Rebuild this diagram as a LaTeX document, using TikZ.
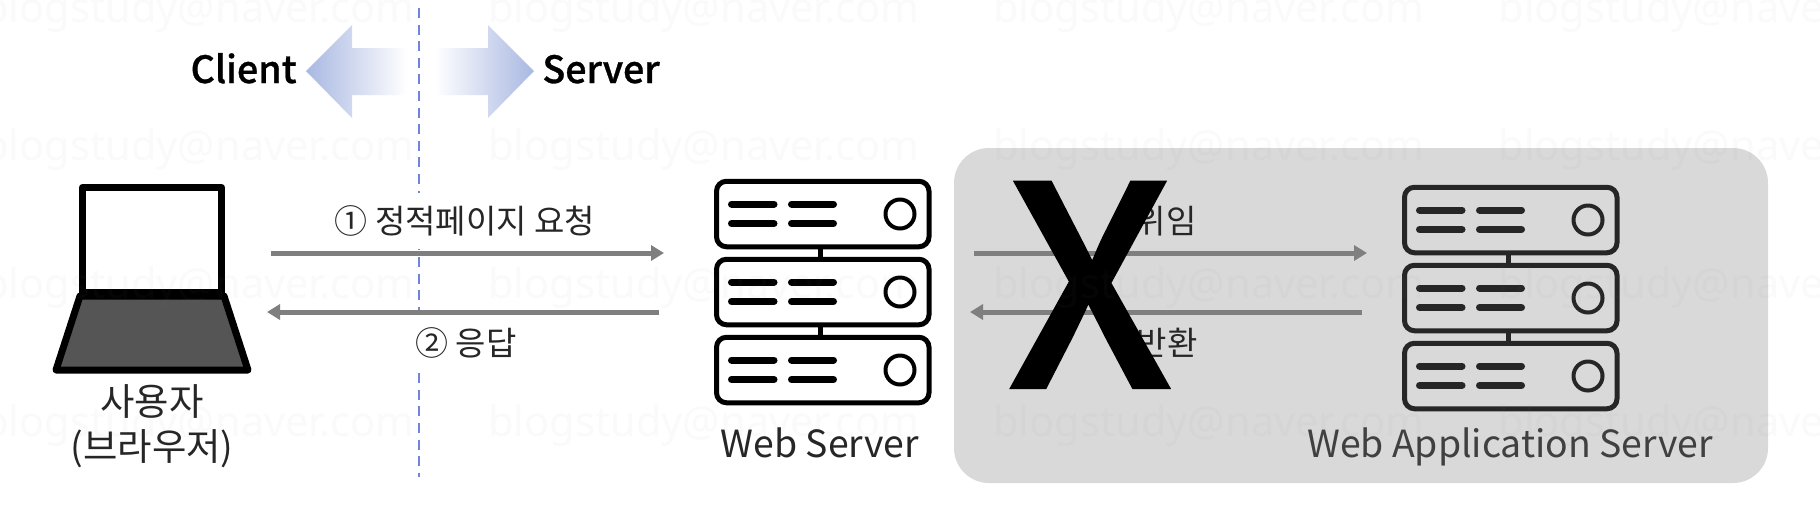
\documentclass[tikz,border=0pt]{standalone}
\usepackage{fontspec}
\usetikzlibrary{arrows.meta}
\setmainfont{Noto Sans CJK KR}
\newfontfamily\medfont[FakeBold=0.8]{Noto Sans CJK KR Medium}
\newfontfamily\wmfont{Noto Sans}
\definecolor{arrowgray}{HTML}{7F7F7F}
\definecolor{panelgray}{HTML}{D9D9D9}
\definecolor{dashblue}{HTML}{6F84DA}
\definecolor{headblue}{HTML}{A9B8E2}
\definecolor{txtdark}{HTML}{262626}
\definecolor{txtmid}{HTML}{404040}
\definecolor{basegray}{HTML}{555555}
\tikzset{
  x=0.5pt,y=-0.5pt,
  rack/.style={draw=#1,line width=2.5pt,rounded corners=5pt,inner sep=0pt,outer sep=0pt,minimum width=106.25pt,minimum height=32.75pt,fill=none},
  bar/.style={draw=#1,line width=3.5pt,line cap=round},
  led/.style={draw=#1,line width=2pt,circle,inner sep=0pt,outer sep=0pt,minimum size=14.5pt},
  link/.style={draw=#1,line width=2.5pt},
  flow/.style={draw=arrowgray,line width=2.5pt,-{Triangle[length=6.5pt,width=7.5pt]},shorten >=0pt},
  label/.style={font=\fontsize{16.5}{20}\selectfont,text=txtdark,inner sep=0pt},
  caption/.style={font=\fontsize{18.7}{22}\selectfont,inner sep=0pt,anchor=base},
  bigword/.style={font=\medfont\fontsize{18.8}{22}\selectfont,text=black,inner sep=0pt,anchor=base},
  wm/.style={font=\wmfont\fontsize{20.8}{24}\selectfont,text=gray,opacity=0.04,text opacity=0.04,inner sep=0pt,anchor=base west},
}
\newcommand{\rackstack}[4]{% prefix, dx, dy, colour
  \begin{scope}[shift={(#2,#3)}]
    \foreach \n/\yy in {1/214,2/292,3/370}{
      \node[rack=#4] (#1\n) at (822.75,\yy) {};
      \draw[bar=#4] (731.5,\yy-10) -- (774,\yy-10);
      \draw[bar=#4] (731.5,\yy+9.5) -- (774,\yy+9.5);
      \draw[bar=#4] (791.5,\yy-10) -- (833.5,\yy-10);
      \draw[bar=#4] (791.5,\yy+9.5) -- (833.5,\yy+9.5);
      \node[led=#4] (#1l\n) at (900,\yy) {};
    }
    \draw[link=#4] ([xshift=-1.125pt]#11.south) -- ([xshift=-1.125pt]#12.north);
    \draw[link=#4] ([xshift=-1.125pt]#12.south) -- ([xshift=-1.125pt]#13.north);
  \end{scope}
}
\begin{document}
\begin{tikzpicture}
\useasboundingbox (0,0) rectangle (1820,516);
\fill[white] (0,0) rectangle (1820,516);
% boundary
\coordinate (dashtop) at (419,8);
\coordinate (dashbot) at (419,477);
\draw[dashblue,line width=1.25pt,dash pattern=on 5pt off 3.3pt] (dashtop) -- (dashbot);
% direction arrows
\shade[left color=headblue,right color=white] (306,71) -- (352,25) -- (352,48) -- (407,48) -- (407,95) -- (352,95) -- (352,118) -- cycle;
\shade[left color=white,right color=headblue] (534,71) -- (488,25) -- (488,48) -- (435,48) -- (435,95) -- (488,95) -- (488,118) -- cycle;
\node[bigword,anchor=base east] (client) at (297,83) {Client};
\node[bigword,anchor=base west] (server) at (542,83) {Server};
% panel
\fill[panelgray,rounded corners=17.5pt] (954,148) rectangle (1768,483);
% laptop
\draw[black,line width=3.5pt,line join=round,fill=basegray] (80,296) -- (224,296) -- (248,370) -- (56,370) -- cycle;
\draw[black,line width=3.5pt,line join=round,fill=white] (82.5,187.5) rectangle (221.5,292);
\node[caption,text=txtdark,anchor=center,align=center,font=\fontsize{18.7}{22.5}\selectfont] (user) at (152,426) {사용자\\(브라우저)};
% labels
\node[label,fill=white,minimum height=28pt] (lab1) at (465,221) {① 정적페이지 요청};
\node[label,fill=white,minimum height=28pt] (lab2) at (466,343) {② 응답};
\node[label,anchor=east] (lab3) at (1197,221) {위임};
\node[label,anchor=east] (lab4) at (1198,343) {반환};
% arrows
\coordinate (a1s) at (271,253); \coordinate (a1e) at (664,253);
\coordinate (a2s) at (659,312); \coordinate (a2e) at (267,312);
\coordinate (a3s) at (974,253); \coordinate (a3e) at (1367,253);
\coordinate (a4s) at (1362,312); \coordinate (a4e) at (970,312);
\draw[flow] (a1s) -- (a1e);
\draw[flow] (a2s) -- (a2e);
\draw[flow] (a3s) -- (a3e);
\draw[flow] (a4s) -- (a4e);
% servers
\rackstack{ws}{0}{0}{black}
\rackstack{was}{688}{6}{txtdark}
\node[caption,text=txtdark] (wslabel) at (820,457) {Web Server};
\node[caption,text=txtmid] (waslabel) at (1510,457) {Web Application Server};
% X
\node[font=\medfont\fontsize{140}{140}\selectfont,text=black,inner sep=0pt,anchor=base] (bigx) at (1090,388) {X};
% watermark
\foreach \yy in {22,160,298,436}{
  \foreach \xx in {-17,488,993,1498}{
    \begin{scope}
      \clip (0,0) rectangle (1820,516);
      \node[wm] at (\xx,\yy) {blogstudy@naver.com};
    \end{scope}
  }
}
\end{tikzpicture}
\end{document}
